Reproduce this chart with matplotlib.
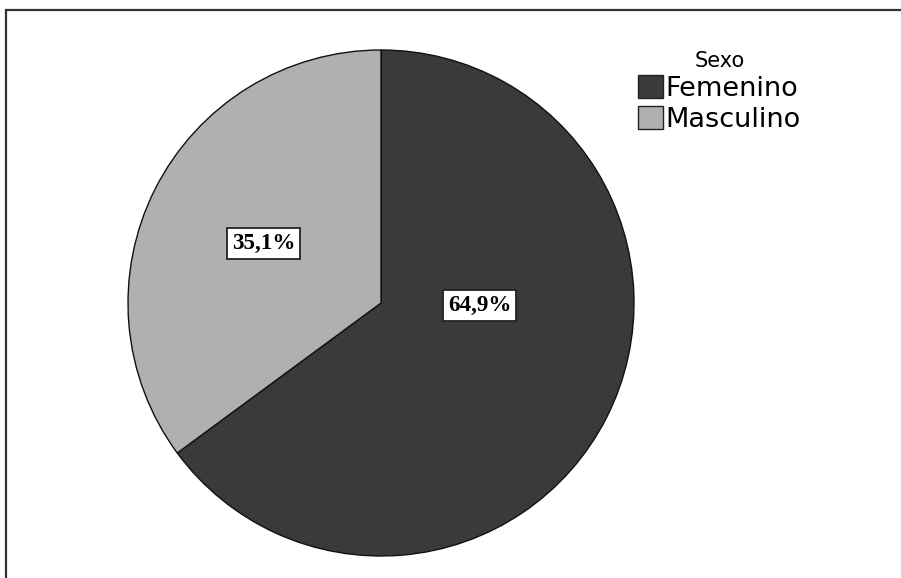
import matplotlib
matplotlib.use("Agg")
import matplotlib.pyplot as plt
from matplotlib.patches import Rectangle, Patch

categories = ["Femenino", "Masculino"]
percentages = [64.9, 35.1]
colors = ["#3a3a3a", "#b0b0b0"]
legend_title = "Sexo"

W, H = 901, 578
fig = plt.figure(figsize=(W / 100, H / 100), dpi=100)
fig.patch.set_facecolor("white")

# outer frame (left and top edges visible)
fig.add_artist(Rectangle((6 / W, -0.1), 1.2, (H - 10) / H + 0.1,
                         transform=fig.transFigure, fill=False,
                         edgecolor="#333333", linewidth=1.6))

# pie axes: centre (381, 303) px, radius 253 px
cx, cy, r = 381, 303, 253
ax = fig.add_axes([(cx - r) / W, 1 - (cy + r) / H, 2 * r / W, 2 * r / H])
wedges, _ = ax.pie(percentages, colors=colors, startangle=90, counterclock=False,
                   wedgeprops=dict(edgecolor="#111111", linewidth=1.0))
ax.set_xlim(-1, 1)
ax.set_ylim(-1, 1)
ax.set_aspect("auto")

label_pos = [(0.39, -0.01), (-0.465, 0.235)]
for val, (x, y) in zip(percentages, label_pos):
    ax.text(x, y, f"{val:.1f}%".replace(".", ","), ha="center", va="center",
            fontsize=16.7, fontweight="bold", family="Liberation Serif",
            bbox=dict(boxstyle="square,pad=0.22", facecolor="white",
                      edgecolor="#222222", linewidth=1.3))

handles = [Patch(facecolor=c, edgecolor="#222222", linewidth=1.0) for c in colors]
leg = fig.legend(handles, categories, title=legend_title,
                 loc="upper left", bbox_to_anchor=(619 / W, 1 - 32 / H),
                 frameon=False, fontsize=19.5, title_fontsize=15,
                 handlelength=0.92, handleheight=0.92, handletextpad=0.1,
                 labelspacing=0.15, borderpad=0.2)
leg._legend_box.align = "center"

fig.savefig("out.png", dpi=100, facecolor="white")
